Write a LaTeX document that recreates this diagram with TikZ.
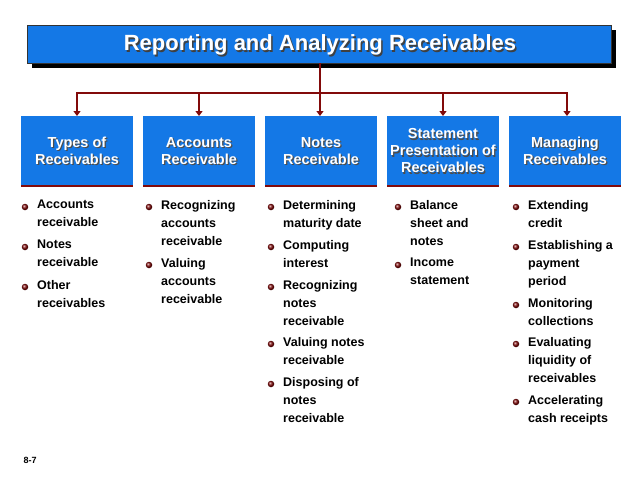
\documentclass[tikz,border=0pt]{standalone}
\usepackage{fontspec}
\setmainfont{Liberation Sans}
\usetikzlibrary{arrows.meta}
\definecolor{bblue}{RGB}{20,120,230}
\definecolor{dred}{RGB}{130,10,10}
\tikzset{
 catbox/.style={fill=bblue,minimum width=112pt,minimum height=70pt,inner sep=0pt},
 cattext/.style={text=white,font=\bfseries\fontsize{14.5}{17}\selectfont,align=center},
 shadowtext/.style={text=black!70,font=\bfseries\fontsize{14.5}{17}\selectfont,align=center},
 item/.style={anchor=north west,align=left,font=\bfseries\fontsize{12.5}{18}\selectfont,inner sep=0pt},
 bul/.style={circle,inner sep=0pt,minimum size=6.5pt,ball color=dred,draw=none},
 conn/.style={draw=dred,line width=2.2pt},
 arr/.style={draw=dred,line width=2.2pt,-{Triangle[length=5pt,width=7pt]}}
}
\newcommand{\bitem}[4]{% x y name text
 \node[bul] (#3b) at (#1-12,#2+7) {};
 \node[item] (#3) at (#1,#2) {#4};}
\begin{document}
\begin{tikzpicture}[x=1pt,y=-1pt]
\useasboundingbox (0,0) rectangle (638,479);
\fill[white] (0,0) rectangle (638,479);
% title
\fill[black] (32,30) rectangle (616,68);
\node[fill=bblue,draw=black!80,line width=0.6pt,minimum width=584pt,minimum height=38pt,inner sep=0pt] (title) at (319,44) {};
\node[text=black!75,font=\bfseries\fontsize{22}{24}\selectfont] at (321.5,46.5) {Reporting and Analyzing Receivables};
\node[text=white,font=\bfseries\fontsize{22}{24}\selectfont] at (320,45) {Reporting and Analyzing Receivables};
% boxes
\foreach \n/\x/\t in {b1/77/{Types of\\Receivables},b2/199/{Accounts\\Receivable},b3/321/{Notes\\Receivable},b4/443/{Statement\\Presentation of\\Receivables},b5/565/{Managing\\Receivables}}{
 \node[catbox] (\n) at (\x,151) {};
 \draw[dred,line width=2pt] (\x-56,186) -- (\x+56,186);
 \node[shadowtext] at (\x+1.2,152.2) {\t};
 \node[cattext] at (\x,151) {\t};
}
% connectors
\coordinate (j) at (320,93);
\draw[conn] (title.south -| j) -- (j);
\draw[conn] (77,93) -- (567,93);
\foreach \n/\x in {b1/77,b2/199,b3/320,b4/443,b5/567}{
 \draw[arr] (\x,92) -- (\x,116);
}
% items
\bitem{37}{200}{a1}{Accounts\\receivable}
\bitem{37}{240}{a2}{Notes\\receivable}
\bitem{37}{280}{a3}{Other\\receivables}
\bitem{161}{200}{c1}{Recognizing\\accounts\\receivable}
\bitem{161}{258}{c2}{Valuing\\accounts\\receivable}
\bitem{283}{200}{d1}{Determining\\maturity date}
\bitem{283}{240}{d2}{Computing\\interest}
\bitem{283}{280}{d3}{Recognizing\\notes\\receivable}
\bitem{283}{337}{d4}{Valuing notes\\receivable}
\bitem{283}{377}{d5}{Disposing of\\notes\\receivable}
\bitem{410}{200}{e1}{Balance\\sheet and\\notes}
\bitem{410}{258}{e2}{Income\\statement}
\bitem{528}{200}{f1}{Extending\\credit}
\bitem{528}{240}{f2}{Establishing a\\payment\\period}
\bitem{528}{298}{f3}{Monitoring\\collections}
\bitem{528}{337}{f4}{Evaluating\\liquidity of\\receivables}
\bitem{528}{395}{f5}{Accelerating\\cash receipts}
\node[anchor=west,font=\bfseries\fontsize{9}{10}\selectfont] (pg) at (20,460) {8-7};
\end{tikzpicture}
\end{document}
